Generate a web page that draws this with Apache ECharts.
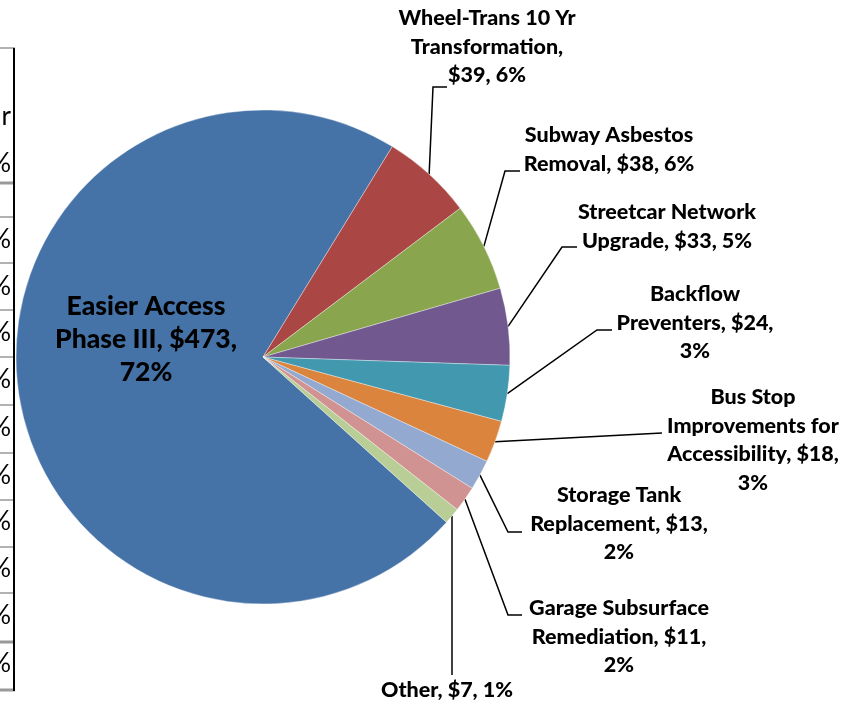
<!DOCTYPE html>
<html>
<head>
<meta charset="utf-8">
<script src="https://cdn.jsdelivr.net/npm/echarts@6/dist/echarts.min.js"></script>
<style>
  html, body { margin: 0; padding: 0; background: #fff; }
  #chart { width: 848px; height: 702px; }
</style>
</head>
<body>
<div id="chart"></div>
<script>
// slice names (line breaks as in the picture), values in $M, shown shares
const names = [
  'Easier Access\nPhase III',
  'Wheel-Trans 10 Yr\nTransformation',
  'Subway Asbestos\nRemoval',
  'Streetcar Network\nUpgrade',
  'Backflow\nPreventers',
  'Bus Stop\nImprovements for\nAccessibility',
  'Storage Tank\nReplacement',
  'Garage Subsurface\nRemediation',
  'Other'
];
const values = [473, 39, 38, 33, 24, 18, 13, 11, 7];
const shares = [72, 6, 6, 5, 3, 3, 2, 2, 1];
const sepValue = [' ', '\n', ' ', ' ', ' ', ' ', ' ', ' ', ' '];
const sepShare = ['\n', ' ', ' ', ' ', '\n', '\n', '\n', '\n', ' '];
const colors = ['#4572A7', '#AA4643', '#89A54E', '#71588F', '#4198AF', '#DB843D', '#93A9CF', '#D19392', '#B9CD96'];

// label placement: [centre x, top y] and leader hook [bend x, y, end x]
const labelPos = [[146, 290], [487, 4], [609, 121], [667, 198], [695, 280], [753, 383], [619, 481], [619, 594], [447, 676]];
const hooks = [null, [433, 87, 447], [505, 171, 520], [562, 247, 577], [597, 330, 612], [662, 433, 662], [508, 532, 522], [508, 615, 522], [452, 675, 452]];

const FONT = 'Lato, "DejaVu Sans", sans-serif';

const chart = echarts.init(document.getElementById('chart'));

// cut-off table on the left edge
const tableLines = [48, 183, 217, 263, 310, 357, 405, 453, 500, 547, 593, 642, 690];
const thick = [183, 642, 690];
const pctRows = [164, 240, 287, 333, 380, 428, 476, 522, 569, 616, 664];
const graphic = [];
tableLines.forEach(function (y) {
  graphic.push({
    type: 'line', shape: { x1: 0, y1: y, x2: 15, y2: y },
    style: { stroke: '#999', lineWidth: thick.indexOf(y) >= 0 ? 3 : 1.5 }
  });
});
graphic.push({
  type: 'line', shape: { x1: 14, y1: 48, x2: 14, y2: 691 },
  style: { stroke: '#000', lineWidth: 2 }
});
graphic.push({
  type: 'text', x: 11, y: 117,
  style: { text: 'r', font: '26px ' + FONT, fill: '#000', textAlign: 'right', textVerticalAlign: 'middle' }
});
pctRows.forEach(function (y) {
  graphic.push({
    type: 'text', x: 11, y: y,
    style: { text: '%', font: '26px ' + FONT, fill: '#000', textAlign: 'right', textVerticalAlign: 'middle' }
  });
});

const data = values.map(function (v, i) {
  return {
    name: names[i],
    value: v,
    itemStyle: { color: colors[i] },
    labelLine: { show: i !== 0 },
    label: i === 0 ? { fontSize: 26.5, lineHeight: 33 } : {}
  };
});

chart.setOption({
  animation: false,
  graphic: graphic,
  series: [{
    type: 'pie',
    center: [263, 357],
    radius: 247,
    startAngle: -42,
    clockwise: true,
    avoidLabelOverlap: false,
    data: data,
    itemStyle: { borderColor: 'rgba(255,255,255,0.6)', borderWidth: 0.6 },
    label: {
      show: true,
      color: '#000',
      fontFamily: FONT,
      fontWeight: 900,
      fontSize: 21.5,
      lineHeight: 28.5,
      align: 'center',
      formatter: function (p) {
        const i = p.dataIndex;
        return names[i] + ',' + sepValue[i] + '$' + values[i] + ',' + sepShare[i] + shares[i] + '%';
      }
    },
    labelLine: {
      show: true,
      length: 10,
      length2: 10,
      lineStyle: { color: '#000', width: 1.5 }
    },
    labelLayout: function (p) {
      const i = p.dataIndex;
      const out = {
        x: labelPos[i][0],
        y: labelPos[i][1],
        align: 'center',
        verticalAlign: 'top'
      };
      const h = hooks[i];
      if (h && p.labelLinePoints) {
        const start = p.labelLinePoints[0];
        out.labelLinePoints = [start, [h[0], h[1]], [h[2], h[1]]];
      }
      return out;
    }
  }]
});
</script>
</body>
</html>
